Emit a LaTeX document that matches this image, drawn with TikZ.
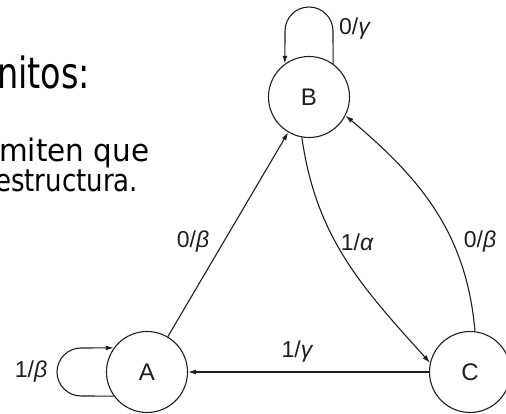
\documentclass[tikz,border=0pt]{standalone}
\usepackage{fontspec}
\setmainfont{Liberation Sans}
\newfontfamily\slidefont[FakeStretch=0.78]{DejaVu Sans}
\newfontfamily\slidefontb[FakeStretch=0.95]{DejaVu Sans}
\newfontfamily\slidefontc[FakeStretch=0.84]{DejaVu Sans}
\usetikzlibrary{arrows.meta}
\definecolor{ink}{HTML}{1E1E1E}
\begin{document}
\begin{tikzpicture}[x=1pt,y=1pt,
  state/.style={circle, draw=ink, line width=1.1pt, minimum size=81pt, inner sep=0pt,
    font=\fontsize{24}{24}\selectfont, text=ink},
  edge/.style={draw=ink, line width=1.1pt, -{Latex[length=8pt,width=5pt]}},
  lbl/.style={font=\fontsize{23}{23}\selectfont, inner sep=0pt, text=ink},
  slide/.style={inner sep=0pt, anchor=base west, text=black}]
\useasboundingbox (0,0) rectangle (506,414);
% slide text
\node[slide, font=\slidefont\fontsize{43}{43}\selectfont] (t1) at (-3,325) {nitos:};
\node[slide, font=\slidefontb\fontsize{31}{31}\selectfont] (t2) at (-1,252) {miten que};
\node[slide, font=\slidefontc\fontsize{31}{31}\selectfont] (t3) at (-5,222) {estructura.};
% states
\node[state] (B) at (309,317) {B};
\node[state] (A) at (147,42) {A};
\node[state] (C) at (470,42) {C};
% self loops
\draw[edge] (B.54) -- (333,383) arc[start angle=0, end angle=180, radius=24] -- (B.126);
\draw[edge] (A.216) -- (81,18) arc[start angle=270, end angle=90, radius=24] -- (A.144);
% transitions
\draw[edge] (A) -- (B);
\draw[edge] (B.260) to[out=-82, in=132] (C.167);
\draw[edge] (C.83) to[out=95, in=-40] (B.-27);
\draw[edge] (C) -- (A);
% labels
\node[lbl, anchor=west] (lBB) at (339,385) {0/{\itshape γ}};
\node[lbl] (lAB) at (193,172) {0/{\itshape β}};
\node[lbl] (lBC) at (357,172) {1/{\itshape α}};
\node[lbl] (lCB) at (480,172) {0/{\itshape β}};
\node[lbl] (lCA) at (297,62) {1/{\itshape γ}};
\node[lbl] (lAA) at (31,42) {1/{\itshape β}};
\end{tikzpicture}
\end{document}
